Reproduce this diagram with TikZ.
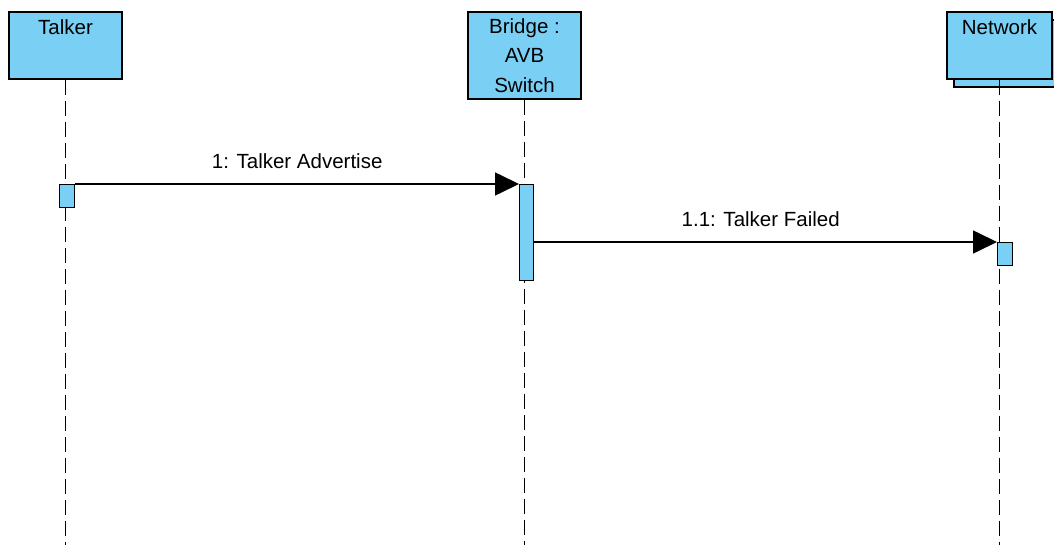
\documentclass[tikz,border=0pt]{standalone}
\usepackage{fontspec}
\setmainfont{Liberation Sans}
\usetikzlibrary{arrows.meta,shadows}
\definecolor{headblue}{RGB}{122,207,245}
\tikzset{
	head/.style={draw=black, line width=1.4pt, fill=headblue, inner sep=0pt, font=\fontsize{20.5pt}{29.5pt}\selectfont},
	act/.style={draw=black, line width=1.4pt, fill=headblue, inner sep=0pt, minimum width=15pt},
	life/.style={line width=1.7pt, dash pattern=on 15pt off 6pt},
	msg/.style={line width=1.6pt, -{Triangle[length=24pt,width=23pt]}},
	msglabel/.style={anchor=base, yshift=15pt, inner sep=0pt, font=\fontsize{20.5pt}{24pt}\selectfont}
}
\begin{document}
\begin{tikzpicture}[x=1pt, y=-1pt]
		%%%%% START %%%%%
		\useasboundingbox (0, 0) rectangle (1054, 545);
		\coordinate (bottom) at (0, 545);
		
		\node[head, minimum width=113pt, minimum height=67pt, text height=23pt, text depth=44pt] (talker) at (65.5, 45.5) {Talker};
		\node[head, minimum width=113pt, minimum height=87pt, align=center] (bridge) at (524.5, 55.5) {Bridge :\\AVB\\Switch};
		\node[head, minimum width=105pt, minimum height=67pt, text height=23pt, text depth=44pt, copy shadow={shadow xshift=7pt, shadow yshift=-8pt}] (network) at (999.5, 45.5) {Network};
		
		\draw[life] (talker.south) -- (talker.south |- bottom);
		\draw[life] (bridge.south) -- (bridge.south |- bottom);
		\draw[life] (network.south) -- (network.south |- bottom);
		
		\node[act, minimum height=23pt, anchor=north west] (tact) at (59, 184) {};
		\node[act, minimum width=14pt, minimum height=96pt, anchor=north west] (bact) at (519, 184) {};
		\node[act, minimum height=23pt, anchor=north west] (nact) at (997, 242) {};
		
		\draw[msg] (tact.north east) -- (bact.north west) node[msglabel, midway] {1: Talker Advertise};
		\draw[msg] (bact.east |- nact.north) -- (nact.north west) node[msglabel, midway, xshift=-5pt] {1.1: Talker Failed};
		
		%%%%% END %%%%%
	\end{tikzpicture}
\end{document}
